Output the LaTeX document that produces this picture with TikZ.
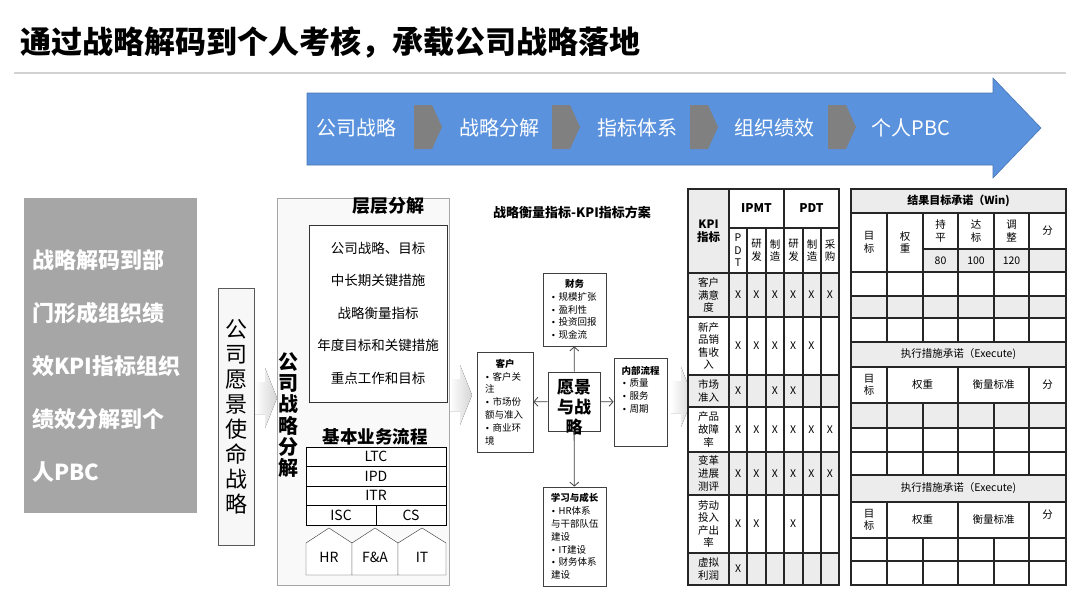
\documentclass[tikz,border=0pt]{standalone}
\usepackage{fontspec}
\setmainfont{Noto Sans CJK SC}
\newfontfamily\bulfont{DejaVu Sans}
\usetikzlibrary{arrows.meta,positioning,calc}
\definecolor{arrowblue}{RGB}{90,146,222}
\definecolor{chevgray}{RGB}{128,128,128}
\definecolor{panelgray}{RGB}{166,166,166}
\definecolor{palegray}{RGB}{212,212,212}
\definecolor{cellgray}{RGB}{236,236,236}
\newcommand{\fsz}[2]{\fontsize{#1}{#2}\selectfont}
\newcommand{\bul}{{\bulfont\fsz{8}{10}•}\kern3pt}

\begin{document}
\begin{tikzpicture}[x=1pt, y=-1pt,
    headline/.style={font=\fsz{31}{36}\bfseries, anchor=west, inner sep=0},
    stage/.style={font=\fsz{20}{24}, text=white, inner sep=0},
    chev/.style={fill=chevgray},
    palearrow/.style={left color=white, right color=palegray, draw=none},
    vbox/.style={draw=gray!70!black, fill=gray!6, minimum width=36, minimum height=257, inner sep=0, align=center, font=\fsz{22}{25}},
    proc/.style={draw=black, fill=white, minimum width=140, minimum height=19.5, inner sep=0, outer sep=0, font=\fsz{14}{16}},
    kbox/.style={draw=gray!50!black, fill=white, line width=0.8pt, align=left, inner xsep=8, inner ysep=0, font=\fsz{9.5}{12.8}},
    link/.style={-{Straight Barb[length=4pt, width=9pt]}, draw=gray!50!black, line width=0.8pt},
    tabline/.style={draw=black!85, line width=1.1pt},
    tcell/.style={font=\fsz{10.5}{12.6}, align=center, inner sep=0},
    hcell/.style={tcell, font=\fsz{11.5}{12.6}\bfseries}
]
\useasboundingbox (0,0) rectangle (1080,608);

% Title
\node[headline] (title) at (20,42) {通过战略解码到个人考核，承载公司战略落地};
\draw[gray!35, line width=1.5pt] (14,73) -- (1066,73);

% Blue process arrow
\fill[arrowblue, draw=arrowblue!80!black, line width=0.6pt] (307,93) -- (993,93) -- (993,78) -- (1041,128) -- (993,178) -- (993,165) -- (307,165) -- cycle;
\node[stage] (s1) at (356,128) {公司战略};
\node[stage] (s2) at (499,128) {战略分解};
\node[stage] (s3) at (637,128) {指标体系};
\node[stage] (s4) at (774,128) {组织绩效};
\node[stage] (s5) at (911,128) {个人PBC};
\foreach \x in {414,552,690,828}
  \fill[chev] (\x,105) -- (\x+18,105) -- (\x+28,127) -- (\x+18,149) -- (\x,149) -- cycle;

% Left panel
\node[fill=panelgray, minimum width=173, minimum height=315, inner sep=0] (panel) at (110.5,355.5) {};
\node[font=\fsz{22}{53}\bfseries, text=white, align=left, inner sep=0, anchor=west] (paneltxt) at (32,366.5)
  {战略解码到部\\门形成组织绩\\效KPI指标组织\\绩效分解到个\\人PBC};
\node[vbox] (vision) at (236,416.5) {公\\司\\愿\\景\\使\\命\\战\\略};

% Pale block arrows
\foreach \x/\y in {255/398, 450/395, 671/397}
  \fill[palearrow] (\x,\y-16) -- (\x+10,\y-16) -- (\x+10,\y-30) -- (\x+22,\y) -- (\x+10,\y+30) -- (\x+10,\y+16) -- (\x,\y+16) -- cycle;

% Decomposition box
\node[draw=gray!70, fill=gray!5, minimum width=172, minimum height=387, inner sep=0] (decomp) at (363,391.5) {};
\node[font=\fsz{20}{21.2}\bfseries, align=center, inner sep=0] (declabel) at (288,415) {公\\司\\战\\略\\分\\解};
\node[font=\fsz{18}{20}\bfseries, inner sep=0] (layer) at (388,206) {层层分解};
\node[draw=black!80, fill=white, minimum width=138, minimum height=177, inner sep=0] (layerbox) at (378,313.5) {};
\node[font=\fsz{13.5}{32.5}, align=center, inner sep=0] (layeritems) at (378,313)
  {公司战略、目标\\中长期关键措施\\战略衡量指标\\年度目标和关键措施\\重点工作和目标};
\node[font=\fsz{17.5}{20}\bfseries, inner sep=0] (bizflow) at (375,437) {基本业务流程};
\node[proc] (ltc) at (376,456.75) {LTC};
\node[proc, below=0pt of ltc] (ipd) {IPD};
\node[proc, below=0pt of ipd] (itr) {ITR};
\node[proc, minimum width=70, anchor=north west] (isc) at (itr.south west) {ISC};
\node[proc, minimum width=70, right=0pt of isc] (cs) {CS};
\foreach \x/\w/\lab [count=\i] in {306/46/HR, 352/46/F\&A, 398/48/IT}{
  \draw[black!80, fill=white] (\x,575) -- (\x,543) -- (\x+\w/2,528) -- (\x+\w,543) -- (\x+\w,575) -- cycle;
  \node[font=\fsz{14}{16}, inner sep=0] (house\i) at (\x+\w/2,557) {\lab};
}

% KPI scheme
\node[font=\fsz{13}{15}\bfseries, inner sep=0] (kpititle) at (572,212) {战略衡量指标-KPI指标方案};
\node[kbox, text width=47, minimum height=73] (fin) at (574.5,309.5)
  {\makebox[\hsize]{\bfseries 财务}\\\bul 规模扩张\\\bul 盈利性\\\bul 投资回报\\\bul 现金流};
\node[kbox, text width=40, minimum height=100] (cust) at (505,402)
  {\makebox[\hsize]{\bfseries 客户}\\\bul 客户关\\注\\\bul 市场份\\额与准入\\\bul 商业环\\境};
\node[kbox, text width=37, minimum height=88] (intp) at (640.5,402)
  {\makebox[\hsize]{\bfseries 内部流程}\\\bul 质量\\\bul 服务\\\bul 周期\\\mbox{}\\\mbox{}};
\node[kbox, text width=47, minimum height=99] (learn) at (574.5,536.5)
  {\makebox[\hsize]{\bfseries 学习与成长}\\\bul HR体系\\与干部队伍\\建设\\\bul IT建设\\\bul 财务体系\\建设};
\node[draw=gray!50!black, fill=white, line width=0.8pt, minimum width=52, minimum height=59, inner sep=0] (vis) at (574,401.5) {};
\node[font=\fsz{17}{20}\bfseries, align=center, inner sep=0] (vistxt) at (574,407) {愿景\\与战\\略};
\draw[link] (vis) -- (fin);
\draw[link] (vis) -- (cust);
\draw[link] (vis) -- (intp);
\draw[link] (vis) -- (learn);

% KPI table
\fill[white] (688,189) rectangle (839,585);
\fill[cellgray] (688,189) rectangle (729,273);
\foreach \ya/\yb in {273/317, 375/407, 452/495, 553/585}
  \fill[cellgray] (688,\ya) rectangle (839,\yb);
\draw[tabline] (688,189) rectangle (839,585);
\draw[tabline] (729,189) -- (729,585) (784,189) -- (784,585) (729,228) -- (839,228);
\foreach \x in {747,766,803,821} \draw[tabline] (\x,228) -- (\x,585);
\foreach \y in {273,317,375,407,452,495,553} \draw[tabline] (688,\y) -- (839,\y);
\node[hcell] (kpi) at (708.5,231) {KPI\\指标};
\node[hcell, font=\fsz{12}{14}\bfseries] (ipmt) at (756.5,208.5) {IPMT};
\node[hcell, font=\fsz{12}{14}\bfseries] (pdt) at (811.5,208.5) {PDT};
\foreach \x/\t [count=\i] in {738/{P\\D\\T}, 756.5/{研\\发}, 775/{制\\造}, 793.5/{研\\发}, 812/{制\\造}, 830/{采\\购}}
  \node[tcell] (sub\i) at (\x,250.5) {\t};
\foreach \y/\t [count=\i] in {295/{客户\\满意\\度}, 346/{新产\\品销\\售收\\入}, 391/{市场\\准入}, 429.5/{产品\\故障\\率}, 473.5/{变革\\进展\\测评}, 524/{劳动\\投入\\产出\\率}, 569/{虚拟\\利润}}
  \node[tcell] (row\i) at (708.5,\y) {\t};
\foreach \y/\marks [count=\r] in {295/{1,1,1,1,1,1}, 346/{1,1,1,1,1,0}, 391/{1,0,1,1,0,0}, 429.5/{1,1,1,1,1,1}, 473.5/{1,1,1,1,1,1}, 524/{1,1,0,1,0,0}, 569/{1,0,0,0,0,0}}
  \foreach \m [count=\c] in \marks {
    \ifnum\m=1 \node[tcell] (x\r-\c) at (729+18.33*\c-9.17,\y) {X}; \fi
  };

% PBC table
\fill[white] (851,189) rectangle (1066,585);
\foreach \ya/\yb in {189/213, 296/318, 342/367, 403/428, 475/502}
  \fill[cellgray] (851,\ya) rectangle (1066,\yb);
\fill[cellgray] (923,249) rectangle (1066,272);
\draw[tabline] (851,189) rectangle (1066,585);
\foreach \y in {213,272,296,318,342,367,403,428,452,475,502,538,561} \draw[tabline] (851,\y) -- (1066,\y);
\draw[tabline] (923,249) -- (1066,249);
\foreach \x in {887,923,958,994,1029} \draw[tabline] (\x,213) -- (\x,342) (\x,403) -- (\x,475) (\x,538) -- (\x,585);
\foreach \x in {887,958,1029} \draw[tabline] (\x,367) -- (\x,403) (\x,502) -- (\x,538);
\node[hcell, font=\fsz{11}{13}\bfseries] (win) at (958.5,201) {结果目标承诺（Win)};
\node[tcell] (wgoal) at (869,242.5) {目\\标};
\node[tcell] (wweight) at (905,242.5) {权\\重};
\node[tcell] (wflat) at (940.5,231) {持\\平};
\node[tcell] (wreach) at (976,231) {达\\标};
\node[tcell] (wadj) at (1011.5,231) {调\\整};
\node[tcell] (wscore) at (1047.5,231) {分};
\node[tcell] (v80) at (940.5,260.5) {80};
\node[tcell] (v100) at (976,260.5) {100};
\node[tcell] (v120) at (1011.5,260.5) {120};
\foreach \y/\yb [count=\i] in {354.5/385, 488.5/520}{
  \node[tcell] (exec\i) at (958.5,\y) {执行措施承诺（Execute)};
  \node[tcell] (egoal\i) at (869,\yb) {目\\标};
  \node[tcell] (eweight\i) at (922.5,\yb) {权重};
  \node[tcell] (emeas\i) at (993.5,\yb) {衡量标准};
}
\node[tcell] (escore1) at (1047.5,385) {分};
\node[tcell] (escore2) at (1047.5,515) {分};
\end{tikzpicture}
\end{document}
